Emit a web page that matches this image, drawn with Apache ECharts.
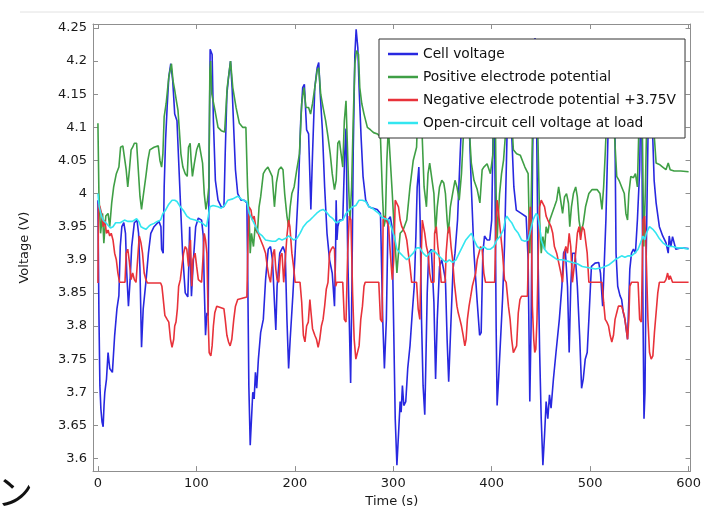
<!DOCTYPE html>
<html>
<head>
<meta charset="utf-8">
<title>Cell voltage</title>
<script src="https://cdn.jsdelivr.net/npm/echarts@6/dist/echarts.min.js"></script>
<style>
  html, body { margin: 0; padding: 0; background: #fff; }
  #chart { width: 704px; height: 513px; }
</style>
</head>
<body>
<div id="chart"></div>
<script>
// tick positions
var timeTicks = [0, 100, 200, 300, 400, 500, 600];
var voltageTicks = [3.6, 3.65, 3.7, 3.75, 3.8, 3.85, 3.9, 3.95, 4, 4.05, 4.1, 4.15, 4.2, 4.25];

// [time (s), voltage (V)]
var cellVoltage = [
  [0,3.99],[1,3.82],[2,3.71],[3,3.675],[4.2,3.655],[5.3,3.648],[6.2,3.68],[7,3.70],[8.7,3.72],[10.3,3.76],
  [12,3.736],[14.7,3.73],[17,3.786],[19.3,3.826],[21.3,3.846],[22.7,3.92],[24.3,3.95],[26.3,3.956],[28,3.94],
  [29.3,3.88],[31,3.83],[32.7,3.87],[34.3,3.92],[37,3.956],[39.7,3.96],[41.3,3.94],[42.7,3.886],[44.3,3.768],
  [46,3.826],[48.7,3.866],[51.3,3.91],[53.7,3.94],[57,3.95],[62,3.958],[64,3.95],[64.7,3.916],[66.3,3.91],
  [67.3,4.01],[68.7,4.08],[70.3,4.13],[72,4.176],[74,4.196],[76,4.17],[78,4.12],[80.3,4.11],[82,4.05],
  [84,3.98],[86,3.91],[88.7,3.85],[91.3,3.844],[92.5,3.9],[93.2,3.95],[94,3.9],[95,3.845],[97,3.9],
  [99.3,3.95],[102,3.963],[105.3,3.96],[107,3.936],[108,3.86],[109.3,3.786],[110.7,3.82],[112,3.816],
  [113,4.06],[114,4.218],[116,4.21],[117.3,4.11],[119.3,4.02],[122,3.99],[125.3,3.98],[128,3.98],
  [129.3,4.06],[131,4.15],[132.7,4.176],[134.7,4.2],[136.3,4.16],[138,4.096],[139.7,4.036],[142,4.0],
  [145.3,3.99],[148.7,3.99],[151.3,3.986],[152.3,3.86],[153.3,3.71],[154.7,3.62],[156,3.66],[157.3,3.70],
  [158.7,3.69],[160,3.73],[161.3,3.706],[163,3.75],[165.3,3.79],[168,3.81],[170.3,3.87],[173,3.916],
  [175.3,3.92],[177.3,3.90],[179.3,3.836],[180.7,3.794],[182,3.86],[184.7,3.91],[188,3.92],[190.3,3.91],
  [192,3.81],[193.7,3.736],[195.3,3.78],[198,3.846],[200.3,3.91],[203.7,4.01],[206,4.11],[208,4.16],
  [209.7,4.165],[212,4.096],[214,4.09],[215.3,4.026],[216.3,3.976],[218,4.06],[220.3,4.16],[222.7,4.19],
  [224.3,4.198],[226,4.146],[228,4.096],[230.3,4.01],[232.7,3.94],[235.3,3.90],[238,3.88],[240.3,3.83],
  [241.3,3.9],[242,3.99],[242.8,3.93],[243.7,3.95],[245.3,3.96],[248.7,3.96],[250.7,4.06],[252,4.098],
  [253.7,3.91],[255.3,3.81],[256.7,3.714],[258,3.86],[259.3,4.06],[261,4.21],[262.3,4.248],[264,4.22],
  [265.3,4.16],[267.3,4.086],[269.3,4.026],[272,3.99],[275.3,3.98],[278.7,3.978],[283.7,3.976],[287,3.97],
  [289.3,3.81],[291,3.736],[293,3.81],[294.7,3.96],[297,3.965],[298.7,3.95],[300.3,3.81],[302,3.66],
  [303.7,3.59],[305.3,3.636],[307,3.686],[308,3.67],[309.3,3.71],[310.7,3.68],[312.7,3.686],[314.7,3.736],
  [317,3.77],[319.3,3.82],[321.3,3.86],[323,3.936],[324.3,4.01],[326,4.04],[327.3,3.96],[328.7,3.81],
  [330.3,3.71],[332,3.666],[333,3.736],[334.5,3.85],[336,3.91],[338.7,3.916],[341.3,3.836],[343,3.72],
  [344.7,3.81],[347,3.89],[349.3,3.90],[351.3,3.90],[353,3.87],[354.7,3.78],[356.3,3.716],[358.7,3.81],
  [360.7,3.886],[362.7,3.91],[365.3,3.96],[368,4.06],[369.7,4.116],[372,4.16],[374,4.175],[376,4.15],
  [377,4.11],[379.3,4.01],[382,3.91],[385.3,3.836],[387.7,3.786],[389.3,3.79],[391,3.91],[392.7,3.936],
  [395.3,3.93],[398,3.93],[400,3.96],[401.5,4.1],[402.5,4.16],[403.5,4.0],[404.5,3.8],[405.5,3.68],
  [407,3.72],[409,3.78],[411,3.84],[413,3.92],[415,4.05],[416.5,4.15],[418,4.17],[420,4.1],[422.5,4.01],
  [425,3.975],[430,3.97],[435,3.965],[437,3.9],[438.7,3.686],[440,3.8],[441.5,4.05],[443,4.2],[444,4.235],
  [445,4.2],[446,4.05],[447,3.91],[448.7,3.76],[450.3,3.66],[452,3.59],[453.7,3.636],[455.3,3.686],
  [457,3.66],[458.7,3.696],[460.3,3.676],[462.7,3.72],[465.3,3.76],[468.7,3.81],[471.3,3.86],[473,3.91],
  [474.7,3.916],[477,3.86],[478.7,3.76],[480.3,3.86],[482,3.91],[484.7,3.91],[487,3.86],[489.3,3.786],
  [491.3,3.706],[493,3.72],[495,3.75],[497,3.76],[498.7,3.81],[500.3,3.86],[501.3,3.89],[505,3.895],
  [508.7,3.896],[510.5,3.88],[512.7,3.83],[514.3,3.83],[516,3.96],[518,4.08],[520,4.18],[521.5,4.2],
  [523,4.17],[525.3,4.08],[526.3,3.91],[528,3.86],[530.3,3.846],[532,3.84],[533.7,3.82],[535.3,3.81],
  [538,3.78],[540.3,3.886],[542,3.91],[544,3.916],[546,3.91],[548,3.96],[550.3,4.036],[551.5,4.15],
  [552.5,4.1],[553.5,3.85],[554.7,3.66],[555.7,3.7],[557,3.91],[558.7,4.08],[560.5,4.2],[562,4.2],
  [563.7,4.08],[565,4.02],[567,3.986],[570.3,3.95],[573.7,3.936],[577,3.926],[579.3,3.91],[580.3,3.936],
  [582,3.92],[583.7,3.935],[587,3.916],[592,3.918],[600,3.917]
];

var positiveElectrode = [
  [0,4.106],[1,4.0],[2.7,3.94],[4.7,3.97],[6,3.925],[8,3.966],[10.3,3.97],[12,3.95],[14,3.986],[16,4.01],
  [18.7,4.03],[21.3,4.04],[23,4.07],[25.3,4.072],[27.3,4.07],[28.7,4.036],[30.3,4.01],[32,4.036],
  [33.7,4.066],[35.3,4.07],[37,4.076],[39.3,4.076],[41,4.036],[42.7,3.996],[44.3,3.976],[46,3.996],
  [48.7,4.026],[50.7,4.05],[52.7,4.066],[57,4.07],[61.3,4.072],[63,4.05],[64.7,4.04],[66,4.06],
  [67.3,4.116],[69.3,4.136],[72,4.176],[74.7,4.196],[76.3,4.17],[78,4.156],[79.7,4.14],[81.3,4.126],
  [82.7,4.096],[84.3,4.06],[86.3,4.04],[88.7,4.03],[90.7,4.026],[92,4.07],[93.7,4.076],[94.7,4.05],
  [96,4.026],[98,4.046],[100.3,4.066],[102.7,4.076],[104.7,4.076],[106.3,4.046],[108,4.0],[109.7,3.976],
  [111.3,3.99],[112.7,4.01],[113.7,4.186],[114.5,4.2],[115.7,4.15],[118.7,4.127],[122,4.1],[125.3,4.095],
  [128.7,4.093],[131.3,4.16],[134.7,4.2],[137,4.16],[140.3,4.13],[143.7,4.106],[147,4.1],[150.3,4.1],
  [152,4.01],[153.7,3.96],[154.7,3.91],[156,3.94],[158,3.92],[159.7,3.95],[162,3.94],[163.7,3.98],
  [165.3,3.995],[168,4.03],[170.3,4.036],[172.7,4.04],[174.7,4.04],[177,4.026],[179.3,3.98],[181.3,4.016],
  [183.7,4.036],[186,4.04],[188,4.036],[189.7,4.0],[192,3.966],[193.7,3.95],[195.3,3.98],[197,4.0],
  [199.3,4.01],[202,4.036],[204.7,4.06],[207,4.136],[209.3,4.16],[211.3,4.13],[214,4.13],[216,4.12],
  [218,4.136],[220.3,4.16],[222.7,4.186],[224.3,4.19],[226.3,4.15],[228.7,4.13],[231.3,4.11],[233.7,4.086],
  [236,4.06],[238,4.03],[240.3,4.006],[242,4.02],[243.7,4.076],[245.3,4.08],[247,4.06],[248.7,4.04],
  [250.3,4.11],[252,4.14],[253.7,4.14],[254.7,4.01],[256,3.96],[257.7,4.01],[259.3,4.11],[261,4.196],
  [262.7,4.216],[264.7,4.21],[266,4.16],[268,4.136],[270.3,4.12],[273.7,4.1],[277,4.096],[280,4.092],
  [284,4.09],[287,4.085],[289,4.0],[290.5,3.95],[292,3.96],[293.5,4.05],[295,4.1],[297,4.1],[299,4.0],
  [301.3,3.936],[303.7,3.88],[305.3,3.91],[307,3.94],[310,3.945],[313.7,3.96],[317,4.01],[320.3,4.05],
  [323.7,4.07],[325.5,4.15],[327,4.2],[328.5,4.15],[329.3,4.09],[331.3,4.01],[333.7,3.98],[335.3,4.03],
  [337,4.046],[339,4.044],[341.3,4.0],[343,3.94],[344.7,3.98],[347,4.01],[349.3,4.02],[351.3,4.016],
  [353,4.0],[354.7,3.96],[356,3.94],[358,3.98],[360.3,4.0],[362.7,4.02],[364.7,4.01],[367,3.99],
  [369.3,4.03],[371.3,4.09],[373,4.16],[374.5,4.18],[376,4.15],[377.5,4.09],[379.3,4.046],[382,4.02],
  [385.3,4.006],[388,3.986],[390.3,4.036],[392,4.04],[395.3,4.045],[398.7,4.03],[401.3,4.06],[402.5,4.18],
  [403.5,4.15],[404.5,4.0],[405.5,3.93],[406.5,3.96],[408,4.0],[410,4.03],[412,4.05],[414,4.09],
  [416,4.16],[418,4.18],[420,4.12],[422,4.066],[425.3,4.06],[429,4.058],[433.7,4.04],[437,4.03],
  [438.7,3.91],[440,3.98],[441.5,4.1],[443,4.2],[444,4.22],[445.5,4.15],[447,4.08],[448.7,3.96],
  [450.3,3.91],[452,3.935],[453.7,3.916],[455.3,3.95],[457,3.94],[459,3.96],[461.3,3.97],[463.7,3.98],
  [466,3.99],[468,4.01],[470,4.01],[472,3.97],[474,3.995],[476,4.0],[478,3.985],[479.3,3.95],[481,3.98],
  [483,4.0],[485.3,4.01],[487,3.995],[488.7,3.96],[490.7,3.94],[493,3.955],[495.3,3.98],[498.7,4.0],
  [502,4.006],[507,4.006],[510,4.0],[512,3.976],[513.7,4.01],[515.3,4.06],[517,4.12],[519,4.18],
  [521,4.2],[523,4.17],[524.7,4.09],[527,4.026],[529.3,4.02],[532,4.01],[534.7,4.0],[536.3,3.97],
  [538,3.96],[539.3,4.0],[541.3,4.026],[544,4.024],[546,4.03],[548,4.01],[549.5,4.1],[551,4.2],
  [553,4.1],[554.5,3.92],[556,4.0],[558,4.15],[560,4.2],[563,4.15],[565,4.09],[567,4.046],[570.3,4.044],
  [573.7,4.04],[577,4.036],[579.3,4.046],[581.3,4.036],[585.3,4.034],[592,4.034],[600,4.033]
];

var negativeElectrode = [
  [0,3.865],[0.6,3.985],[2,3.98],[3.7,3.97],[5.3,3.95],[7,3.96],[8.7,3.94],[10.3,3.945],[12,3.936],
  [13.5,3.94],[15.3,3.93],[17,3.91],[18.7,3.9],[20.3,3.88],[22,3.866],[27.5,3.866],[28.7,3.91],
  [30.3,3.916],[32,3.896],[33.7,3.87],[35.3,3.88],[37,3.87],[38.7,3.866],[40.3,3.9],[42,3.936],
  [43.7,3.926],[45.3,3.91],[47,3.88],[48.7,3.87],[50.3,3.865],[63.7,3.865],[65,3.86],[66,3.846],
  [68,3.816],[70.3,3.81],[72,3.806],[73.7,3.78],[75.3,3.768],[77,3.78],[78,3.8],[79.3,3.806],
  [80.7,3.826],[82,3.86],[83.7,3.87],[85.3,3.89],[87,3.91],[88.7,3.92],[90.3,3.916],[92,3.89],[93,3.92],
  [94,3.93],[95.3,3.86],[96.5,3.9],[98.7,3.91],[100.3,3.89],[102,3.87],[105.3,3.866],[107,3.91],
  [108,3.94],[109.3,3.93],[110.7,3.91],[112,3.81],[113,3.76],[114.7,3.755],[116,3.77],[117.3,3.8],
  [118.7,3.82],[120.7,3.83],[122.7,3.83],[128,3.826],[129.3,3.81],[131,3.786],[132.7,3.776],[134.3,3.77],
  [136,3.78],[138,3.81],[139.7,3.83],[142,3.84],[151.3,3.844],[152.5,3.93],[153.5,3.98],[155.5,3.975],
  [157,3.96],[158.7,3.966],[160.3,3.95],[163.7,3.936],[168,3.92],[170.3,3.91],[172,3.89],[173.7,3.875],
  [175.3,3.866],[177,3.866],[178,3.91],[179.3,3.916],[180.7,3.886],[182,3.87],[183.7,3.866],[185.3,3.905],
  [187,3.91],[188.7,3.866],[190.3,3.866],[192,3.936],[193.7,3.96],[195,3.95],[197,3.91],[198.7,3.89],
  [200.3,3.866],[205.3,3.866],[207,3.836],[208.7,3.786],[210.3,3.776],[212,3.8],[213.7,3.806],
  [215.3,3.84],[216.5,3.82],[218,3.796],[220.3,3.786],[222,3.78],[223.7,3.768],[225.3,3.78],[227,3.8],
  [228.7,3.81],[230.3,3.83],[232,3.856],[233.7,3.866],[235.3,3.91],[237,3.916],[238.7,3.92],
  [240.3,3.916],[241.5,3.86],[242.7,3.866],[248.7,3.866],[250.3,3.81],[252,3.806],[253.7,3.91],
  [255.3,3.966],[257,3.96],[258.7,3.85],[260.3,3.78],[262,3.75],[263.7,3.75],[265.3,3.77],[267,3.81],
  [268.7,3.83],[270.3,3.86],[271.5,3.866],[285.3,3.866],[287,3.81],[288.7,3.806],[289.7,3.96],
  [291.3,3.966],[293,3.96],[295.3,3.95],[297,3.91],[299,3.87],[300.5,3.9],[302,3.99],[303.7,3.99],
  [305.3,3.98],[307,3.96],[308.7,3.95],[310.3,3.952],[312,3.94],[313.7,3.93],[315.3,3.91],[317,3.89],
  [318.7,3.866],[323.7,3.866],[325.3,3.826],[327,3.81],[328.3,3.9],[329.5,3.96],[332,3.94],[333.7,3.92],
  [335.3,3.91],[337,3.88],[338.7,3.866],[341.3,3.866],[342,3.94],[343.7,3.95],[345.3,3.92],[347,3.9],
  [348.7,3.866],[352.7,3.866],[353.7,3.91],[355.3,3.94],[357,3.95],[358.7,3.92],[360.3,3.9],[362,3.866],
  [363.5,3.866],[364.7,3.83],[366,3.82],[367.7,3.81],[369.3,3.8],[371,3.786],[372.7,3.77],[374,3.78],
  [375.3,3.81],[377,3.83],[378.7,3.845],[380.3,3.86],[382,3.87],[383.7,3.88],[385.3,3.9],[387,3.91],
  [388.7,3.92],[390.3,3.916],[392,3.88],[393.7,3.866],[403,3.866],[404.3,3.95],[405.5,3.99],[407,3.97],
  [409,3.94],[411,3.91],[413,3.87],[414.7,3.866],[416,3.866],[417,3.83],[418.7,3.81],[420.3,3.78],
  [422,3.76],[423.7,3.76],[425.3,3.77],[427,3.82],[428.7,3.84],[430.3,3.845],[436.3,3.845],[438,3.96],
  [439.3,3.98],[440.3,3.95],[441.3,3.83],[442.7,3.78],[443.7,3.76],[444.8,3.765],[446,3.81],[447.3,3.91],
  [448.7,3.98],[450.3,3.99],[452,3.99],[453.7,3.98],[455.3,3.966],[457,3.96],[458.7,3.96],[460.3,3.95],
  [462,3.94],[463.7,3.92],[466,3.91],[468,3.896],[470.3,3.88],[472,3.866],[473.7,3.91],[475.3,3.92],
  [477,3.91],[478.7,3.94],[480.3,3.92],[482,3.866],[483.7,3.866],[485.3,3.91],[487,3.94],[488.7,3.95],
  [490.3,3.93],[492,3.95],[494,3.945],[497,3.91],[498.7,3.866],[512,3.866],[513.7,3.836],[515.3,3.81],
  [517,3.806],[518.7,3.8],[520.3,3.786],[522,3.776],[523.7,3.786],[525.3,3.81],[527,3.82],[528.7,3.83],
  [532,3.83],[534.7,3.816],[536.3,3.8],[538,3.78],[539.3,3.81],[540.3,3.86],[542,3.866],[548.7,3.866],
  [550.3,3.81],[552,3.806],[553.7,3.96],[555.3,3.966],[556.5,3.93],[558.7,3.81],[560.3,3.76],[562,3.75],
  [563.7,3.755],[565.3,3.79],[567,3.82],[568.7,3.85],[570.3,3.866],[575.3,3.866],[577,3.87],[578.7,3.88],
  [580,3.87],[581.3,3.876],[583.7,3.866],[600,3.866]
];

var openCircuit = [
  [0,4.0],[1.3,3.98],[3.7,3.966],[5.3,3.96],[8,3.956],[12.7,3.948],[15.3,3.95],[18,3.956],[22.7,3.956],
  [27,3.96],[28.7,3.962],[30.5,3.958],[32,3.96],[35,3.958],[39.3,3.962],[41.5,3.958],[43.7,3.95],
  [46,3.948],[48.7,3.946],[51.3,3.95],[53.7,3.953],[57,3.955],[60.3,3.958],[63.7,3.96],[66,3.97],
  [68.7,3.975],[72,3.984],[75.3,3.99],[78,3.99],[80.3,3.988],[83.7,3.98],[87,3.974],[90.3,3.966],
  [93.7,3.962],[98.7,3.96],[105.3,3.956],[110.3,3.95],[112,3.952],[113.7,3.98],[117,3.982],[122,3.98],
  [125.3,3.978],[128.7,3.982],[132,3.99],[137,3.992],[142,3.996],[147,3.99],[151.3,3.988],[153.7,3.97],
  [157,3.96],[160.3,3.95],[163.7,3.94],[167,3.936],[170.3,3.93],[177,3.928],[180.3,3.928],[183.7,3.932],
  [187,3.93],[190.3,3.932],[193.7,3.936],[198.7,3.93],[202,3.932],[205.3,3.94],[208.7,3.95],[212,3.956],
  [215.3,3.96],[218.7,3.965],[222,3.97],[225.3,3.974],[228.7,3.976],[232,3.972],[235.3,3.966],
  [238.7,3.962],[242,3.956],[245.3,3.958],[248.7,3.96],[252,3.97],[255.3,3.975],[258.7,3.98],[262,3.982],
  [265.3,3.99],[268.7,3.99],[272,3.988],[275.3,3.98],[278.7,3.978],[282,3.974],[285.3,3.97],[288.7,3.964],
  [292,3.962],[295.3,3.96],[298.7,3.946],[301,3.935],[303.7,3.916],[307,3.91],[310.3,3.905],[313.7,3.9],
  [317,3.905],[320.3,3.91],[323.7,3.918],[327,3.918],[330.3,3.91],[333.7,3.905],[337,3.91],[340.3,3.915],
  [343.7,3.91],[347,3.905],[350.3,3.9],[353.7,3.896],[357,3.9],[360.3,3.896],[363.7,3.9],[367,3.91],
  [370.3,3.92],[373.7,3.93],[377,3.936],[379.5,3.94],[382,3.93],[385.3,3.92],[388.7,3.916],[392,3.92],
  [395.3,3.916],[398.7,3.916],[402,3.92],[405.3,3.93],[408.7,3.936],[412,3.946],[413.7,3.96],
  [415.3,3.966],[418,3.96],[420.3,3.956],[423.7,3.946],[427,3.94],[430.3,3.93],[433.7,3.928],[437,3.93],
  [438.7,3.94],[440.3,3.95],[442,3.96],[443.7,3.966],[445.3,3.97],[447,3.966],[448.7,3.95],[450.3,3.93],
  [453.7,3.916],[457,3.91],[462,3.905],[467,3.9],[472,3.9],[477,3.898],[482,3.896],[487,3.894],
  [492,3.89],[498.7,3.888],[505.3,3.886],[512,3.888],[518.7,3.892],[525.3,3.9],[532,3.906],[535.3,3.904],
  [538.7,3.906],[542,3.906],[545.3,3.91],[548.7,3.916],[551.3,3.926],[553.7,3.936],[555.5,3.93],
  [557,3.94],[560.3,3.95],[563.7,3.946],[567,3.94],[570.3,3.932],[573.7,3.926],[577,3.922],[580.3,3.92],
  [583.7,3.92],[588.7,3.918],[593.7,3.918],[600,3.916]
];

var seriesNames = [
  'Cell voltage',
  'Positive electrode potential',
  'Negative electrode potential +3.75V',
  'Open-circuit cell voltage at load'
];
var seriesColors = ['#2828e0', '#3f9f45', '#e8323a', '#33e6f0'];
var seriesData = [cellVoltage, positiveElectrode, negativeElectrode, openCircuit];

var font = 'DejaVu Sans';
var frameColor = '#8f8f8f';

var chart = echarts.init(document.getElementById('chart'));

function lineSeries(i) {
  return {
    name: seriesNames[i],
    type: 'line',
    data: seriesData[i],
    xAxisIndex: 0,
    yAxisIndex: 0,
    symbol: 'none',
    showSymbol: false,
    lineStyle: { width: 1.6, color: seriesColors[i] },
    itemStyle: { color: seriesColors[i] },
    z: 2 + i
  };
}

function fmt(v) {
  return String(+(+v).toFixed(2));
}

var tickLabel = { fontFamily: font, fontSize: 13, color: '#1a1a1a' };

var option = {
  animation: false,
  backgroundColor: '#fff',
  grid: { left: 93, right: 6, top: 24, bottom: 37, containLabel: false },
  legend: {
    data: seriesNames,
    orient: 'vertical',
    left: 379,
    top: 39,
    padding: [8, 9, 8, 9],
    itemGap: 9,
    itemWidth: 30,
    itemHeight: 2.5,
    icon: 'rect',
    backgroundColor: '#fff',
    borderColor: '#333',
    borderWidth: 1,
    borderRadius: 0,
    textStyle: { fontFamily: font, fontSize: 13.8, color: '#111', lineHeight: 14 },
    z: 10
  },
  xAxis: [{
    type: 'value',
    min: -5,
    max: 602,
    position: 'bottom',
    name: 'Time (s)',
    nameLocation: 'middle',
    nameGap: 18,
    nameTextStyle: { fontFamily: font, fontSize: 13, color: '#1a1a1a' },
    axisLine: { show: true, onZero: false, lineStyle: { color: frameColor } },
    axisTick: { show: true, inside: true, length: 5, customValues: timeTicks, lineStyle: { color: frameColor } },
    axisLabel: Object.assign({ customValues: timeTicks, margin: 6 }, tickLabel),
    splitLine: { show: false }
  }, {
    type: 'value',
    min: -5,
    max: 602,
    position: 'top',
    axisLine: { show: true, onZero: false, lineStyle: { color: frameColor } },
    axisTick: { show: true, inside: true, length: 5, customValues: timeTicks, lineStyle: { color: frameColor } },
    axisLabel: { show: false },
    splitLine: { show: false }
  }],
  yAxis: [{
    type: 'value',
    min: 3.581,
    max: 4.256,
    position: 'left',
    name: 'Voltage (V)',
    nameLocation: 'middle',
    nameGap: 62,
    nameTextStyle: { fontFamily: font, fontSize: 13, color: '#1a1a1a' },
    axisLine: { show: true, onZero: false, lineStyle: { color: frameColor } },
    axisTick: { show: true, inside: true, length: 5, customValues: voltageTicks, lineStyle: { color: frameColor } },
    axisLabel: Object.assign({ customValues: voltageTicks, margin: 6, formatter: fmt }, tickLabel),
    splitLine: { show: false }
  }, {
    type: 'value',
    min: 3.581,
    max: 4.256,
    position: 'right',
    axisLine: { show: true, onZero: false, lineStyle: { color: frameColor } },
    axisTick: { show: true, inside: true, length: 5, customValues: voltageTicks, lineStyle: { color: frameColor } },
    axisLabel: { show: false },
    splitLine: { show: false }
  }],
  graphic: [{
    type: 'line',
    shape: { x1: 20, y1: 12, x2: 704, y2: 12 },
    style: { stroke: '#e2e2e2', lineWidth: 1 },
    silent: true
  }, {
    type: 'text',
    x: -3,
    y: 474,
    style: { text: 'ン', font: '36px "Noto Sans CJK JP"', fill: '#111' },
    silent: true
  }],
  series: [lineSeries(0), lineSeries(1), lineSeries(2), lineSeries(3)]
};

chart.setOption(option);
</script>
</body>
</html>
